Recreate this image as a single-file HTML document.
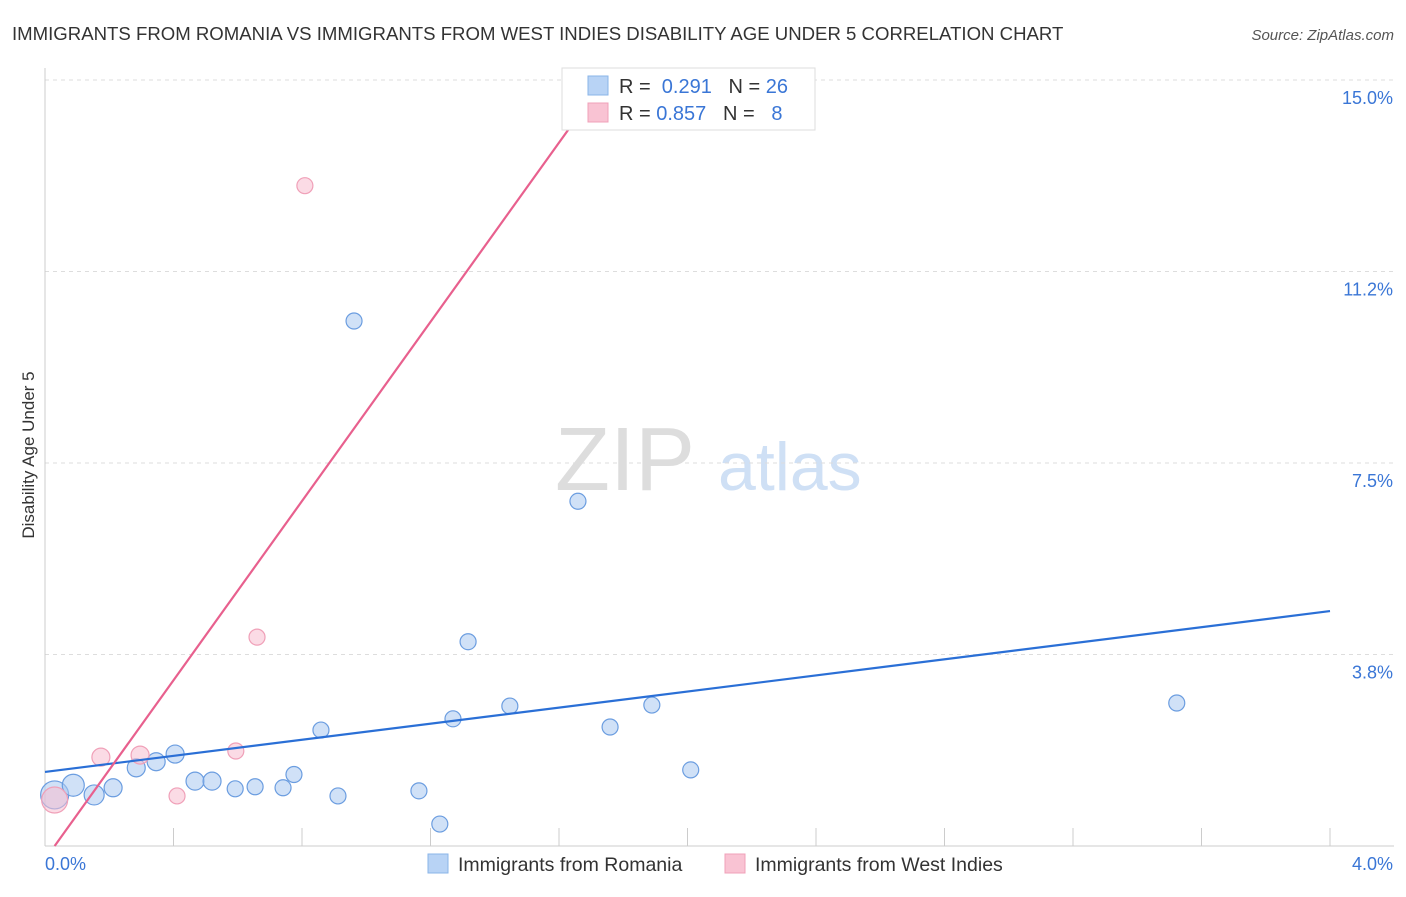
<!DOCTYPE html>
<html><head><meta charset="utf-8"><style>
body{margin:0;background:#fff;font-family:"Liberation Sans",sans-serif}
svg text{font-family:"Liberation Sans",sans-serif}
</style></head><body>
<svg id="c" width="1406" height="892">
<text x="12" y="40" font-size="18.6" fill="#333">IMMIGRANTS FROM ROMANIA VS IMMIGRANTS FROM WEST INDIES DISABILITY AGE UNDER 5 CORRELATION CHART</text>
<text x="1394" y="40" font-size="15" fill="#555" font-style="italic" text-anchor="end">Source: ZipAtlas.com</text>
<text x="34" y="455" font-size="17" fill="#333" text-anchor="middle" transform="rotate(-90 34 455)">Disability Age Under 5</text>
<text x="555" y="490" font-size="90" fill="#ddd" font-family="Liberation Serif">ZIP</text>
<text x="718" y="490" font-size="68" fill="#cfe0f5">atlas</text>
<g id="grid"></g><g id="marks"></g>
<g>
<rect x="562" y="68" width="253" height="62" fill="#fff" stroke="#ddd"/>
<rect x="588" y="76" width="20" height="19" fill="#b8d3f5" stroke="#8ab4e8"/>
<rect x="588" y="103" width="20" height="19" fill="#f9c3d3" stroke="#f0a0b8"/>
<text x="619" y="93" font-size="20" fill="#333">R = <tspan fill="#3a76d6">&#160;0.291</tspan>&#160;&#160;&#160;N = <tspan fill="#3a76d6">26</tspan></text>
<text x="619" y="120" font-size="20" fill="#333">R = <tspan fill="#3a76d6">0.857</tspan>&#160;&#160;&#160;N = <tspan fill="#3a76d6">&#160;&#160;8</tspan></text>
</g>
<g>
<rect x="428" y="854" width="20" height="19" fill="#b8d3f5" stroke="#8ab4e8"/>
<text x="458" y="871" font-size="19.5" fill="#333">Immigrants from Romania</text>
<rect x="725" y="854" width="20" height="19" fill="#f9c3d3" stroke="#f0a0b8"/>
<text x="755" y="871" font-size="19.5" fill="#333">Immigrants from West Indies</text>
</g>
</svg>
<script>
const yTicks=[3.75,7.5,11.25,15];
const yTickLabels=["3.8%","7.5%","11.2%","15.0%"];
const romaniaX=[0.03,0.088,0.153,0.212,0.284,0.346,0.405,0.467,0.52,0.592,0.654,0.741,0.775,0.859,0.912,0.962,1.164,1.229,1.27,1.317,1.447,1.659,1.759,1.889,2.01,3.523];
const romaniaY=[1.0,1.19,1.0,1.14,1.53,1.65,1.8,1.27,1.27,1.12,1.16,1.14,1.4,2.27,0.98,10.28,1.08,0.43,2.49,4.0,2.74,6.75,2.33,2.76,1.49,2.8];
const romaniaR=[14,11,10,9,9,9,9,9,9,8,8,8,8,8,8,8,8,8,8,8,8,8,8,8,8,8];
const westX=[0.03,0.174,0.296,0.411,0.594,0.66,0.809,1.874];
const westY=[0.9,1.74,1.78,0.98,1.86,4.09,12.93,14.41];
const westR=[13,9,9,8,8,8,8,8];
const blueLine=[0,1.45,4.0,4.6];
const pinkLine=[0.03,0.0,1.74,15.0];
const X=v=>45+v*321.25, Y=v=>846-v*51.07;
const ns="http://www.w3.org/2000/svg";
function mk(p,t,a){const e=document.createElementNS(ns,t);for(const k in a)e.setAttribute(k,a[k]);p.appendChild(e);return e;}
const g=document.getElementById('grid'),m=document.getElementById('marks');
yTicks.forEach((t,i)=>{
 const l=mk(g,'line',{x1:45,x2:1394,y1:Y(t),y2:Y(t),stroke:'#ddd','stroke-dasharray':'4,4'});
 
 
 const tx=mk(g,'text',{x:1393,y:Y(t)+24,'font-size':18,fill:'#3a76d6','text-anchor':'end'});tx.textContent=yTickLabels[i];
 
 
});
const yAxisLine=mk(g,'line',{x1:45,x2:45,y1:68,y2:846,stroke:'#ccc'});


const xAxisLine=mk(g,'line',{x1:45,x2:1394,y1:846,y2:846,stroke:'#ccc'});


for(let i=1;i<=10;i++){const t=mk(g,'line',{x1:X(i*0.4),x2:X(i*0.4),y1:828,y2:846,stroke:'#ccc'});
 
 }
let a=mk(g,'text',{x:45,y:870,'font-size':18,fill:'#3a76d6'});a.textContent='0.0%';


a=mk(g,'text',{x:1393,y:870,'font-size':18,fill:'#3a76d6','text-anchor':'end'});a.textContent='4.0%';


romaniaX.forEach((x,i)=>{const c=mk(m,'circle',{cx:X(x),cy:Y(romaniaY[i]),r:romaniaR[i],fill:'rgba(170,200,240,0.55)',stroke:'#6b9de0','stroke-width':1.2});
 
 });
westX.forEach((x,i)=>{const c=mk(m,'circle',{cx:X(x),cy:Y(westY[i]),r:westR[i],fill:'rgba(248,190,208,0.55)',stroke:'#f0a0b8','stroke-width':1.2});
 
 });
const bl=mk(m,'line',{x1:X(blueLine[0]),y1:Y(blueLine[1]),x2:X(blueLine[2]),y2:Y(blueLine[3]),stroke:'#2a6fd6','stroke-width':2.2});


const pl=mk(m,'line',{x1:X(pinkLine[0]),y1:Y(pinkLine[1]),x2:X(pinkLine[2]),y2:Y(pinkLine[3]),stroke:'#e8608e','stroke-width':2.2});


</script>
</body></html>
